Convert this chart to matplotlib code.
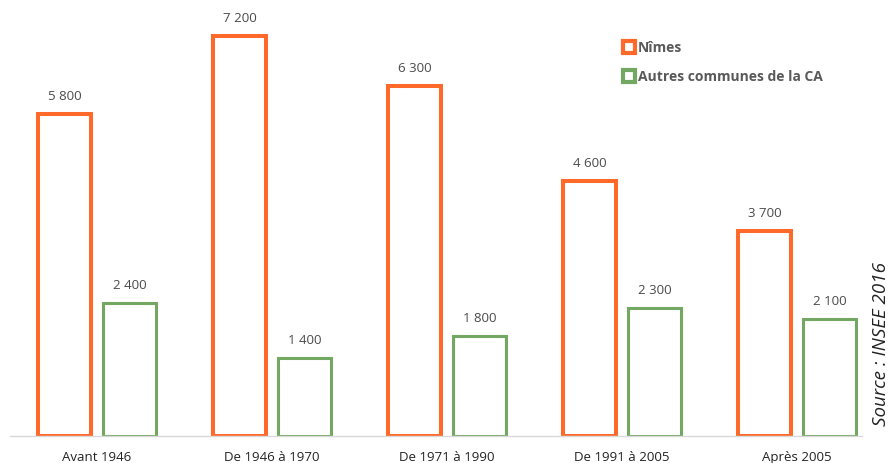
import numpy as np
import matplotlib.pyplot as plt
from matplotlib.lines import Line2D

periods = ['Avant 1946', 'De 1946 à 1970', 'De 1971 à 1990', 'De 1991 à 2005', 'Après 2005']
nimes = [5800, 7200, 6300, 4600, 3700]
autres = [2400, 1400, 1800, 2300, 2100]

orange = '#FF6A2B'
green = '#72A862'
grey = '#595959'

plt.rcParams['font.family'] = ['Open Sans', 'DejaVu Sans']

fig = plt.figure(figsize=(8.93, 4.63), dpi=100)
ax = fig.add_axes([10 / 893, 1 - 436 / 463, 852 / 893, 436 / 463])

x = np.arange(len(periods))
w = 0.30
off = 0.186
ax.bar(x - off, nimes, width=w, facecolor='white', edgecolor=orange, linewidth=2.9)
ax.bar(x + off, autres, width=w, facecolor='white', edgecolor=green, linewidth=2.2)

def fmt(v):
    return f'{v:,}'.replace(',', ' ')

for xi, v in zip(x - off, nimes):
    ax.annotate(fmt(v), (xi, v), xytext=(0, 11), textcoords='offset pixels',
                ha='center', va='bottom', fontsize=9.5, color='#4a4a4a')
for xi, v in zip(x + off, autres):
    ax.annotate(fmt(v), (xi, v), xytext=(0, 11), textcoords='offset pixels',
                ha='center', va='bottom', fontsize=9.5, color='#4a4a4a')

ax.set_xlim(-0.497, 4.371)
ax.set_ylim(0, 7853)
ax.set_xticks(x)
ax.set_xticklabels(periods, fontsize=9.5, color='#222222')
ax.tick_params(axis='x', length=0, pad=10.5)
ax.set_yticks([])
for s in ['top', 'left', 'right']:
    ax.spines[s].set_visible(False)
ax.spines['bottom'].set_color('#d9d9d9')
ax.spines['bottom'].set_linewidth(1)

handles = [
    Line2D([], [], linestyle='none', marker='s', markersize=8, markerfacecolor='white',
           markeredgecolor=orange, markeredgewidth=3),
    Line2D([], [], linestyle='none', marker='s', markersize=8, markerfacecolor='white',
           markeredgecolor=green, markeredgewidth=3),
]
leg = fig.legend(handles, ['Nîmes', 'Autres communes de la CA'], loc='upper left',
                 bbox_to_anchor=(610 / 893, 1 - 28 / 463), frameon=False,
                 handletextpad=0.1, handlelength=1.0, labelspacing=1.1,
                 prop={'weight': 'bold', 'size': 10})
for t in leg.get_texts():
    t.set_color(grey)

fig.text(881 / 893, 1 - 262 / 463, 'Source : INSEE 2016', rotation=90,
         ha='center', va='top', fontsize=13.5, style='italic', color='#222222')

fig.savefig('out.png', dpi=100)
